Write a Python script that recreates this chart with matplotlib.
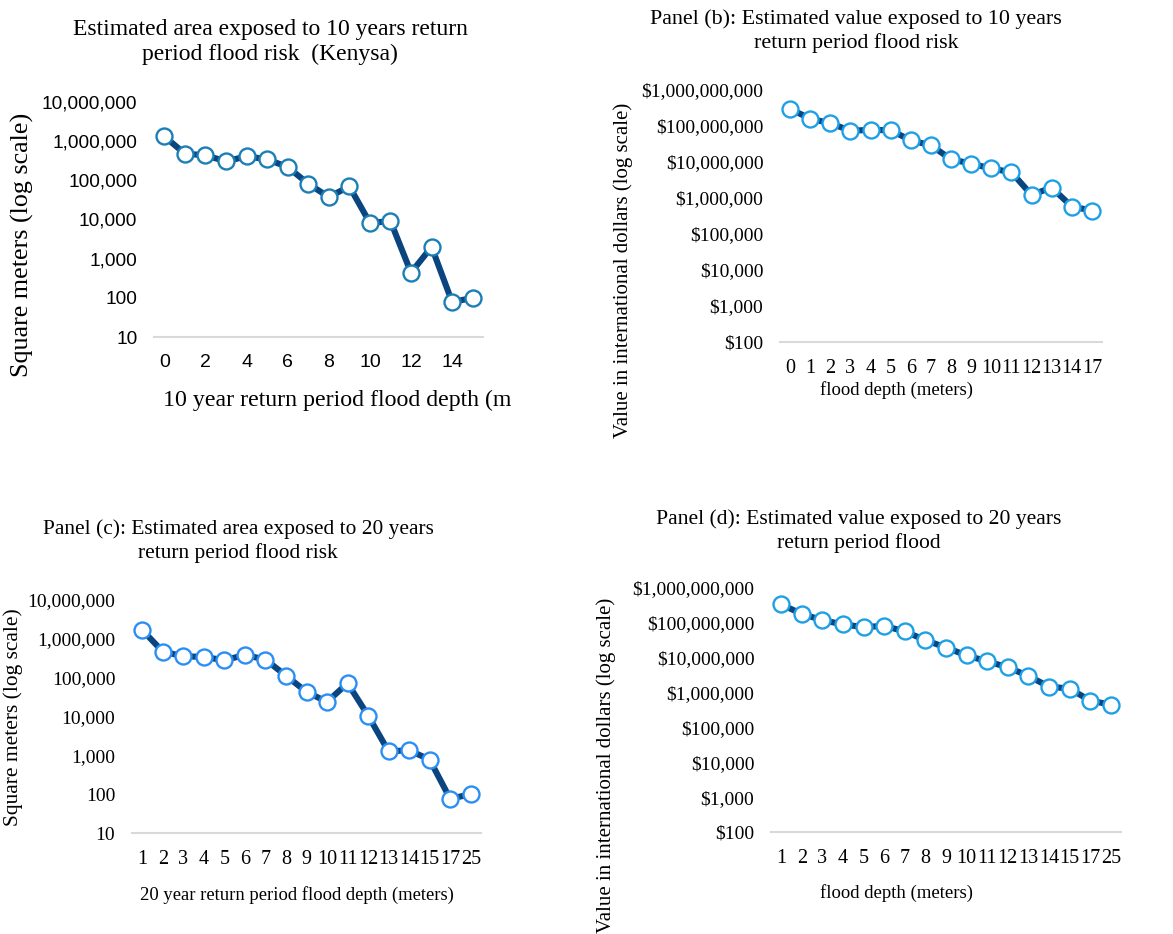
import matplotlib
matplotlib.use('Agg')
import matplotlib.pyplot as plt
from matplotlib.ticker import FixedLocator, FuncFormatter, NullLocator

# panel (a): 10 year area, m2
depth_a = list(range(16))
area_10 = [1330000, 480000, 436000, 305000, 410000, 344000, 219000, 82000,
           37500, 70000, 8200, 9100, 440, 2000, 78, 100]

# panel (b): 10 year value, int. dollars
depth_b = ['0', '1', '2', '3', '4', '5', '6', '7', '8', '9', '10', '11', '12', '13', '14', '17']
value_10 = [297e6, 160e6, 119e6, 74e6, 78e6, 76e6, 40e6, 29e6,
            11.9e6, 9.0e6, 6.6e6, 5.2e6, 1.22e6, 1.95e6, 578e3, 448e3]

# panel (c): 20 year area, m2
depth_cd = ['1', '2', '3', '4', '5', '6', '7', '8', '9', '10', '11', '12', '13', '14', '15', '17', '25']
area_20 = [1690000, 469000, 356000, 342000, 281000, 385000, 292000, 113000,
           43000, 23800, 72000, 10600, 1260, 1360, 770, 76, 100]

# panel (d): 20 year value, int. dollars
value_20 = [339e6, 179e6, 120e6, 90e6, 75.5e6, 82e6, 56.7e6, 31.9e6, 19.6e6,
            11.6e6, 7.9e6, 5.3e6, 3.0e6, 1.48e6, 1.30e6, 588e3, 451e3]

SERIF = 'Liberation Serif'
SANS = 'Liberation Sans'
LINE = '#0a4580'

W, H = 1173, 934
fig = plt.figure(figsize=(W / 100, H / 100), dpi=100)


def px_axes(x0, y0, x1, y1):
    return fig.add_axes([x0 / W, 1 - y1 / H, (x1 - x0) / W, (y1 - y0) / H])


def style(ax, lo, hi, money, font, ysize, xsize):
    ax.set_yscale('log')
    ax.set_ylim(lo, hi)
    ticks = [10 ** k for k in range(len(str(int(lo))) - 1, len(str(int(hi))))]
    ax.yaxis.set_major_locator(FixedLocator(ticks))
    ax.yaxis.set_minor_locator(NullLocator())
    if money:
        ax.yaxis.set_major_formatter(FuncFormatter(lambda v, p: '${:,.0f}'.format(v)))
    else:
        ax.yaxis.set_major_formatter(FuncFormatter(lambda v, p: '{:,.0f}'.format(v)))
    for s in ['top', 'right', 'left']:
        ax.spines[s].set_visible(False)
    ax.spines['bottom'].set_color('#d9d9d9')
    ax.spines['bottom'].set_linewidth(1.5)
    ax.tick_params(length=0, pad=12)
    for lab in ax.get_yticklabels():
        lab.set_fontfamily(font)
        lab.set_fontsize(ysize)
    for lab in ax.get_xticklabels():
        lab.set_fontfamily(font)
        lab.set_fontsize(xsize)


def draw(ax, x, y, edge):
    ax.plot(x, y, color=LINE, lw=4.4, marker='o', ms=11.5, mfc='white',
            mec=edge, mew=1.7, clip_on=False, zorder=3)


# (a)
ax = px_axes(154, 102, 483, 337)
draw(ax, depth_a, area_10, '#1b7fb6')
ax.set_xlim(-0.5, 15.5)
ax.set_xticks(range(0, 15, 2))
style(ax, 10, 1e7, False, SANS, 13.7, 14)
fig.text(270 / W, 1 - 42 / H, 'Estimated area exposed to 10 years return\nperiod flood risk  (Kenysa)',
         ha='center', va='center', fontsize=17, family=SERIF, linespacing=1.25)
fig.text(22 / W, 1 - 245 / H, 'Square meters (log scale)', rotation=90, ha='center', va='center',
         fontsize=18.7, family=SERIF)
fig.text(163 / W, 1 - 400 / H, '10 year return period flood depth (m', ha='left', va='center',
         fontsize=17.2, family=SERIF)

# (b)
ax = px_axes(780, 90, 1102, 342)
draw(ax, range(len(depth_b)), value_10, '#1ea0e6')
ax.set_xlim(-0.5, len(depth_b) - 0.5)
ax.set_xticks(range(len(depth_b)))
ax.set_xticklabels(depth_b)
style(ax, 100, 1e9, True, SERIF, 14, 14.5)
fig.text(856 / W, 1 - 31 / H, 'Panel (b): Estimated value exposed to 10 years\nreturn period flood risk',
         ha='center', va='center', fontsize=15.8, family=SERIF, linespacing=1.25)
fig.text(623 / W, 1 - 270 / H, 'Value in international dollars (log scale)', rotation=90,
         ha='center', va='center', fontsize=15, family=SERIF)
fig.text(897 / W, 1 - 390 / H, 'flood depth (meters)', ha='center', va='center',
         fontsize=13.5, family=SERIF)

# (c)
ax = px_axes(132, 600, 481, 833)
draw(ax, range(len(depth_cd)), area_20, '#2b8ef5')
ax.set_xlim(-0.5, len(depth_cd) - 0.5)
ax.set_xticks(range(len(depth_cd)))
ax.set_xticklabels(depth_cd)
style(ax, 10, 1e7, False, SERIF, 14, 14.5)
fig.text(238 / W, 1 - 541 / H, 'Panel (c): Estimated area exposed to 20 years\nreturn period flood risk',
         ha='center', va='center', fontsize=15.4, family=SERIF, linespacing=1.25)
fig.text(13 / W, 1 - 717 / H, 'Square meters (log scale)', rotation=90, ha='center', va='center',
         fontsize=15.4, family=SERIF)
fig.text(297 / W, 1 - 895 / H, '20 year return period flood depth (meters)', ha='center',
         va='center', fontsize=13.4, family=SERIF)

# (d)
ax = px_axes(771, 588, 1121, 832)
draw(ax, range(len(depth_cd)), value_20, '#1ea0e6')
ax.set_xlim(-0.5, len(depth_cd) - 0.5)
ax.set_xticks(range(len(depth_cd)))
ax.set_xticklabels(depth_cd)
style(ax, 100, 1e9, True, SERIF, 14, 14.5)
fig.text(859 / W, 1 - 531 / H, 'Panel (d): Estimated value exposed to 20 years\nreturn period flood',
         ha='center', va='center', fontsize=15.6, family=SERIF, linespacing=1.25)
fig.text(606 / W, 1 - 598 / H, 'Value in international dollars (log scale)', rotation=90,
         ha='center', va='top', fontsize=15, family=SERIF)
fig.text(896 / W, 1 - 893 / H, 'flood depth (meters)', ha='center', va='center',
         fontsize=13.5, family=SERIF)

fig.savefig('out.png', dpi=100)
